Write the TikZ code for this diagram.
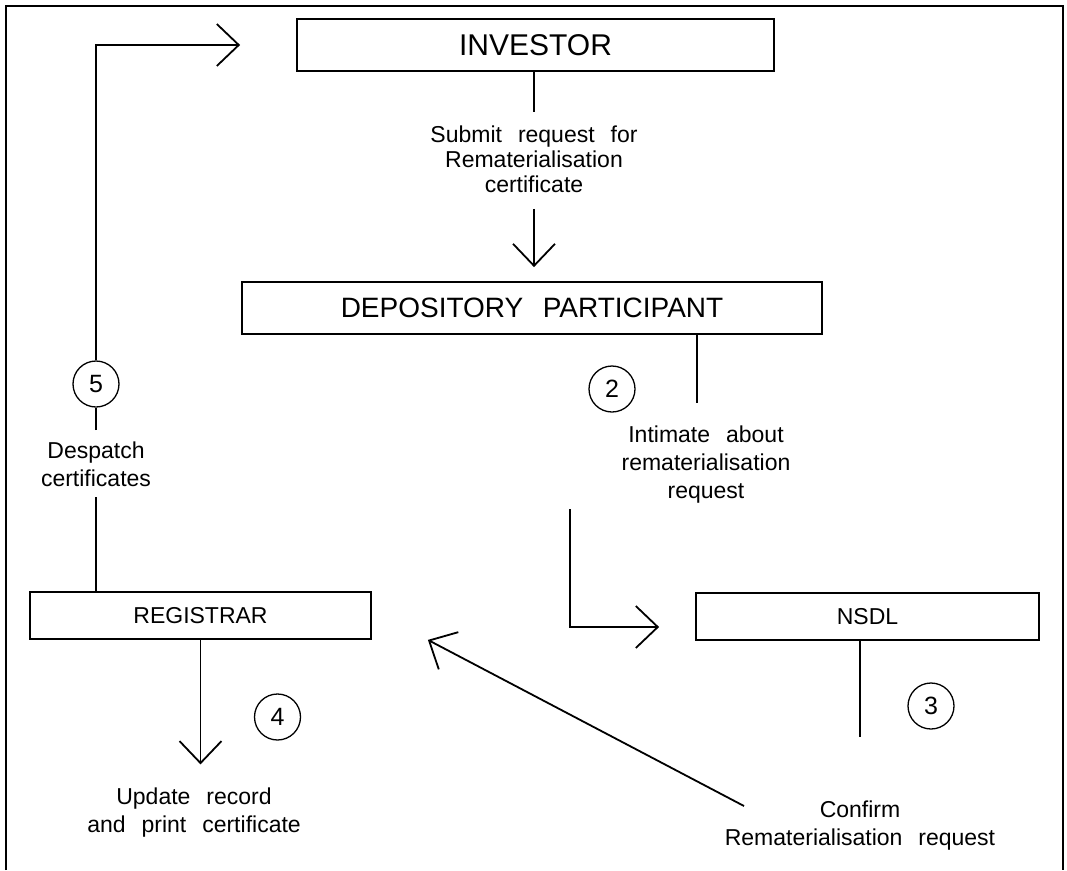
\documentclass[tikz,border=0pt]{standalone}
\usepackage{fontspec}
\setmainfont[WordSpace=2.5]{Liberation Sans}
\usetikzlibrary{arrows.meta}
\begin{document}
\begin{tikzpicture}[x=1pt,y=-1pt,line width=1.8pt,
    box/.style={rectangle,draw,inner sep=0pt},
    lbl/.style={align=center,inner sep=0pt,font=\fontsize{23}{28}\selectfont},
    num/.style={circle,draw,line width=1.3pt,minimum size=46pt,inner sep=0pt,font=\fontsize{25}{25}\selectfont},
    arr/.style={-{Straight Barb[length=22pt,width=42pt]}}]
    \useasboundingbox (0,0) rectangle (1067,870);
    \draw (6,870) -- (6,6) -- (1063,6) -- (1063,870);
    \draw node (inv) at(535.5,45) [box,minimum width=477pt,minimum height=52pt,font=\fontsize{30}{30}\selectfont] {INVESTOR}
          node (dp) at(532,308) [box,minimum width=580pt,minimum height=52pt,font=\fontsize{28}{28}\selectfont] {DEPOSITORY PARTICIPANT}
          node (nsdl) at(867.5,616.5) [box,minimum width=343pt,minimum height=47pt,font=\fontsize{23}{23}\selectfont] {NSDL}
          node (reg) at(200.5,615.5) [box,minimum width=341pt,minimum height=47pt,font=\fontsize{23}{23}\selectfont] {REGISTRAR};
    \node (sub) at(534,159.5) [lbl,font=\fontsize{23}{25}\selectfont] {Submit request for\\Rematerialisation\\certificate};
    \node (int) at(706,464.5) [lbl] {Intimate about\\rematerialisation\\request};
    \node (conf) at(860,825.5) [lbl] {Confirm\\Rematerialisation request};
    \node (upd) at(194,813) [lbl] {Update record\\and print certificate};
    \node (desp) at(96,464.5) [lbl] {Despatch\\certificates};
    \node (c2) at(612,389) [num] {2};
    \node (c3) at(931,706) [num] {3};
    \node (c4) at(277.5,717) [num] {4};
    \node (c5) at(96,384) [num] {5};
    \coordinate (bend) at(570,509);
    \coordinate (cf) at(744,806);
    \draw[shorten >=13pt] (inv.south -| sub.north) -- (sub.north);
    \draw[arr,shorten <=15pt,shorten >=14pt] (sub.south) -- (sub.south |- dp.north);
    \draw ([xshift=165pt]dp.south) -- ++(0,68);
    \draw[arr,shorten >=36pt] (bend) |- ([yshift=-10.5pt]nsdl.west);
    \draw ([xshift=-7.5pt]nsdl.south) -- ++(0,96);
    \draw[arr] (cf) -- ([xshift=56pt]reg.south east);
    \draw[arr,shorten >=23pt] (reg.south) -- (reg.south |- upd.north);
    \draw[shorten >=9pt] (reg.north -| desp.south) -- (desp.south);
    \draw[shorten <=11pt] (desp.north) -- (c5.south);
    \draw[arr,shorten >=56pt] (c5.north) |- (inv.west);
\end{tikzpicture}
\end{document}
